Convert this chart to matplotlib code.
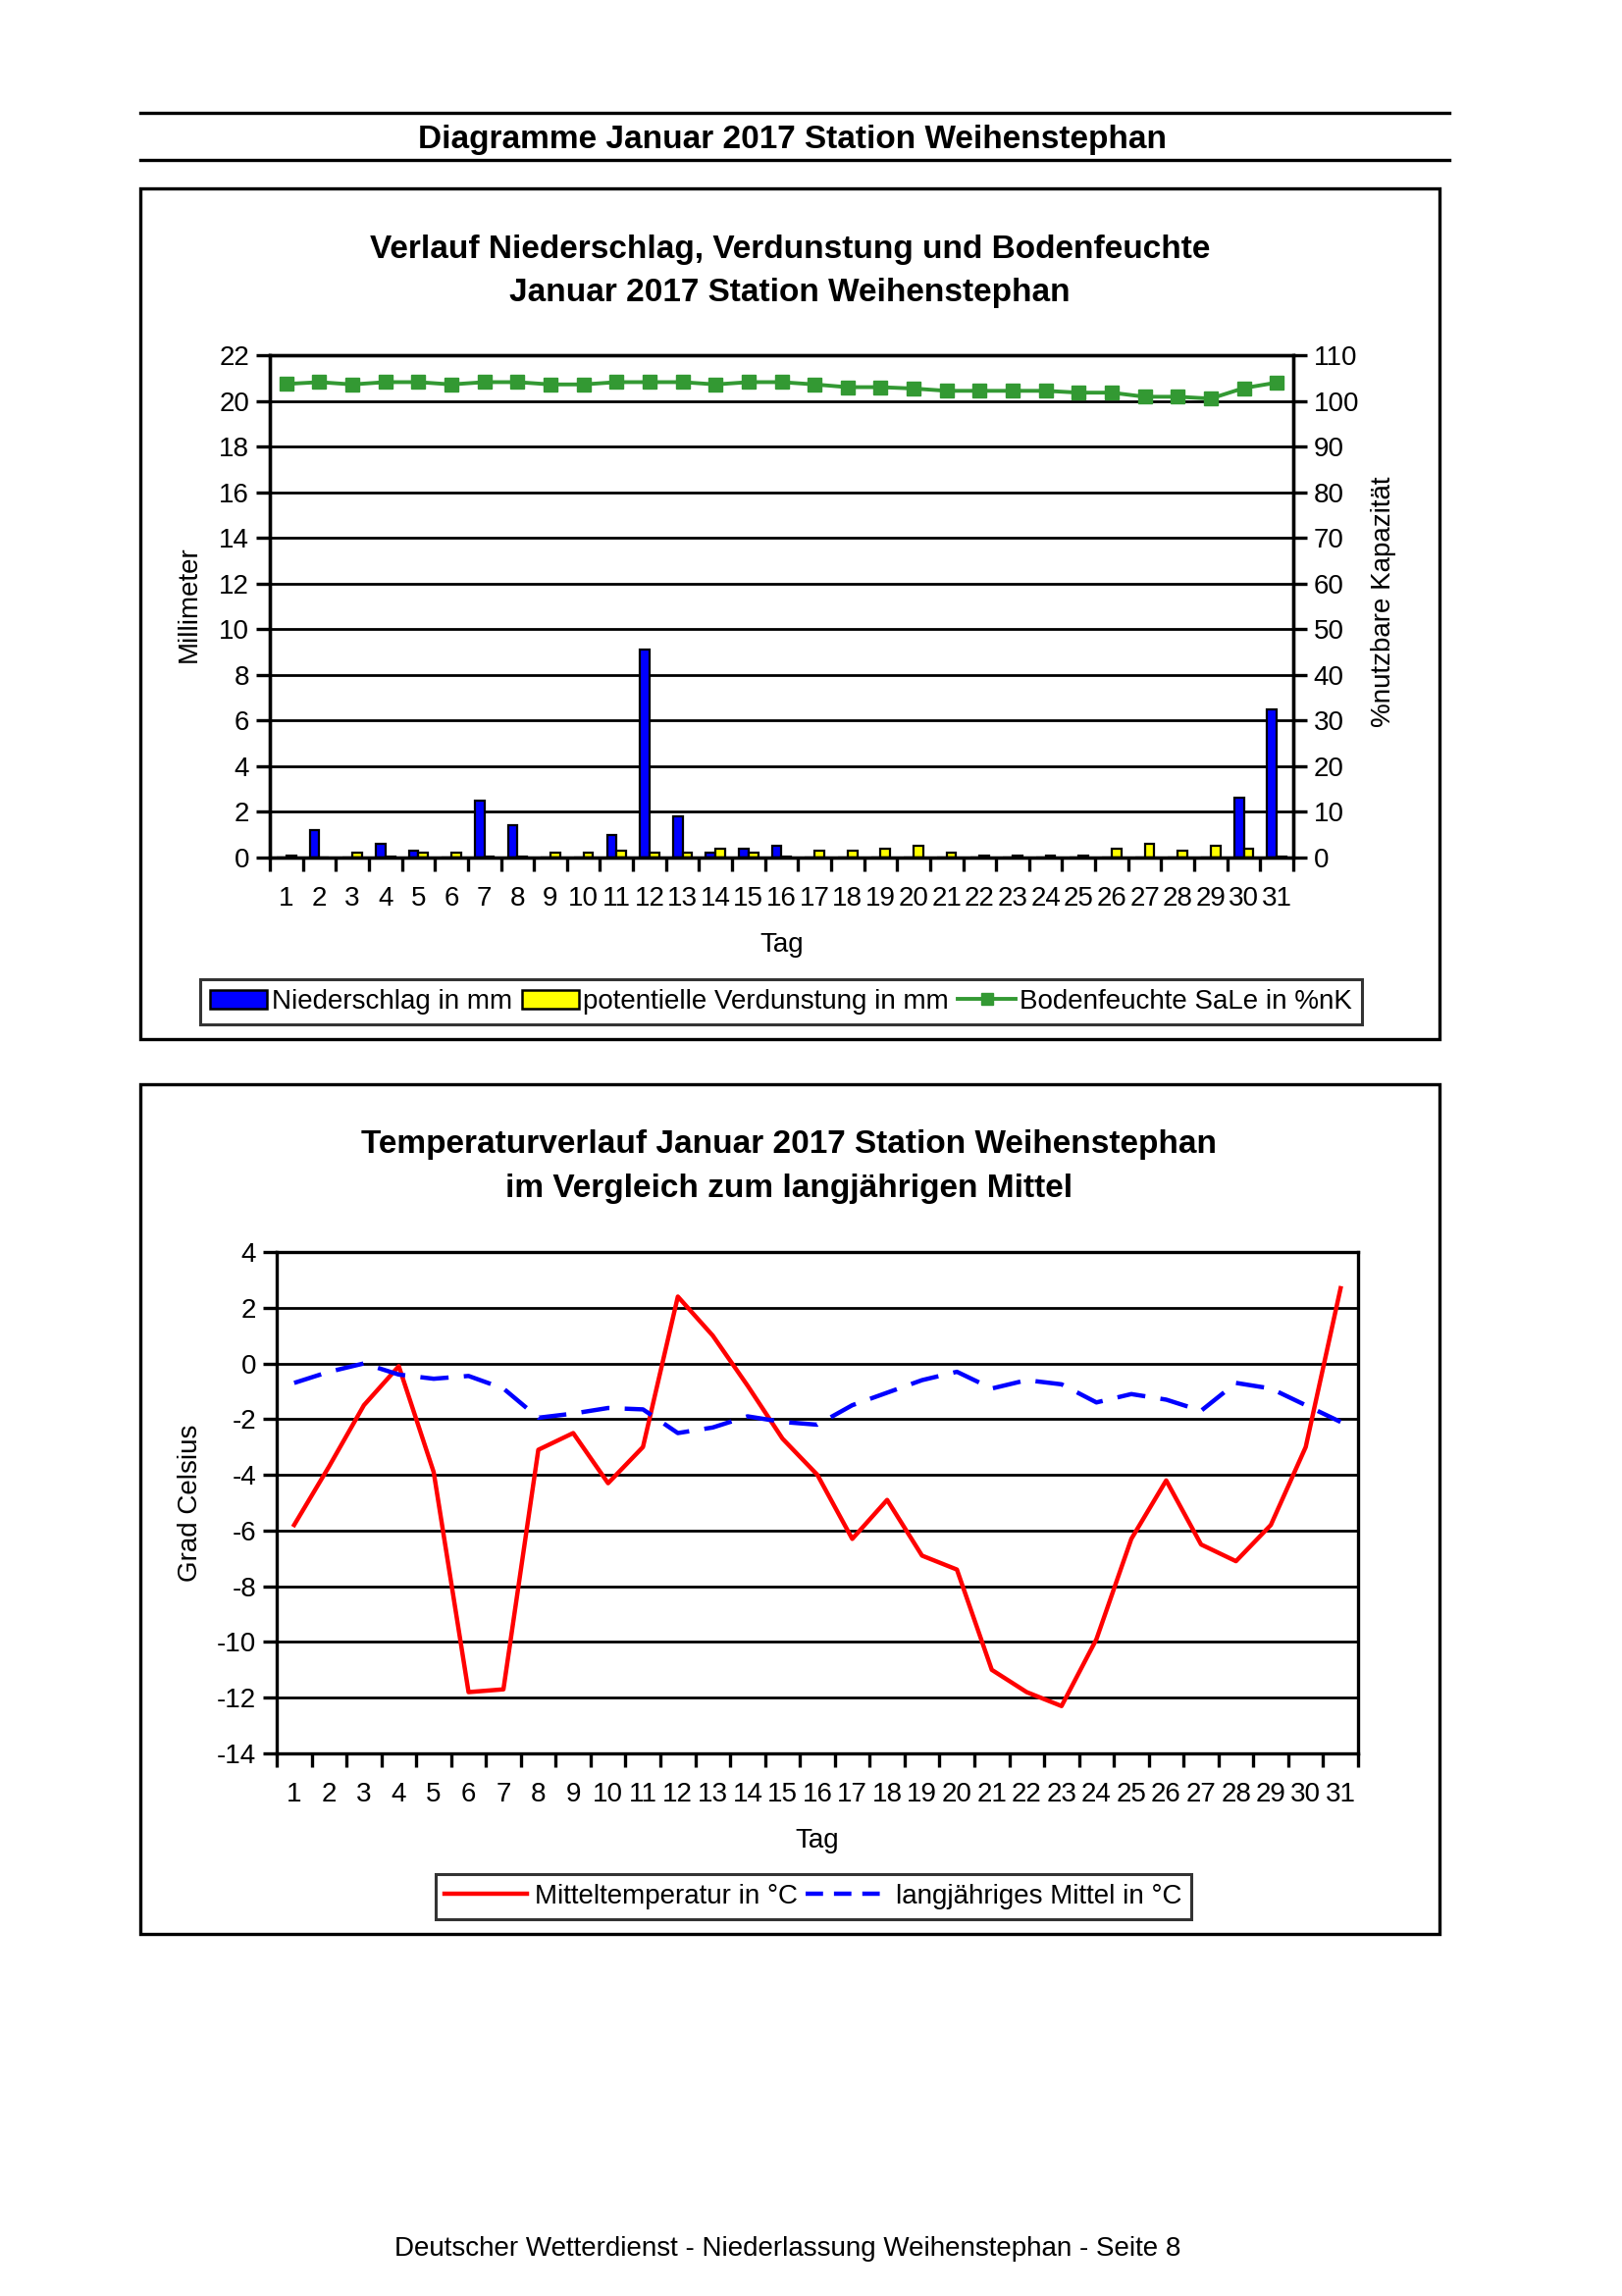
import matplotlib
matplotlib.use('Agg')
import matplotlib.pyplot as plt
from matplotlib.patches import Rectangle, Patch
from matplotlib.lines import Line2D
import numpy as np

plt.rcParams['font.family'] = ['Liberation Sans', 'DejaVu Sans']
plt.rcParams['axes.unicode_minus'] = False

# Daten Januar 2017, Station Weihenstephan
tage = list(range(1, 32))
niederschlag = [0.0, 1.2, 0.0, 0.6, 0.3, 0.0, 2.5, 1.4, 0.0, 0.0, 1.0, 9.1, 1.8, 0.2, 0.4, 0.5,
                0.0, 0.0, 0.0, 0.0, 0.0, 0.0, 0.0, 0.0, 0.0, 0.0, 0.0, 0.0, 0.0, 2.6, 6.5]
verdunstung = [0.1, 0.0, 0.2, 0.05, 0.2, 0.2, 0.05, 0.05, 0.2, 0.2, 0.3, 0.2, 0.2, 0.4, 0.2, 0.05,
               0.3, 0.3, 0.4, 0.5, 0.2, 0.1, 0.1, 0.1, 0.1, 0.4, 0.6, 0.3, 0.5, 0.4, 0.05]
bodenfeuchte = [103.7, 104.1, 103.6, 104.1, 104.1, 103.6, 104.1, 104.1, 103.6, 103.6, 104.1,
                104.1, 104.1, 103.6, 104.1, 104.1, 103.6, 103.0, 103.0, 102.7, 102.2, 102.2,
                102.2, 102.2, 101.8, 101.8, 100.9, 100.9, 100.5, 102.8, 104.0]
mitteltemp = [-5.8, -3.7, -1.5, -0.1, -3.9, -11.8, -11.7, -3.1, -2.5, -4.3, -3.0, 2.4, 1.0, -0.8,
              -2.7, -4.0, -6.3, -4.9, -6.9, -7.4, -11.0, -11.8, -12.3, -9.9, -6.3, -4.2, -6.5,
              -7.1, -5.8, -3.0, 2.7]
langj_mittel = [-0.7, -0.3, 0.0, -0.4, -0.55, -0.45, -0.9, -1.95, -1.8, -1.6, -1.65, -2.5, -2.3,
                -1.9, -2.1, -2.2, -1.5, -1.05, -0.6, -0.3, -0.9, -0.6, -0.75, -1.4, -1.1, -1.3,
                -1.7, -0.7, -0.9, -1.5, -2.1]

W, H = 1653, 2340
fig = plt.figure(figsize=(W / 100, H / 100), dpi=100)


def fx(px):
    return px / W


def fy(py):
    return 1 - py / H


# Kopfzeile
for y in (115, 163):
    fig.add_artist(Line2D([fx(143), fx(1477)], [fy(y), fy(y)], color='black', lw=2.4))
fig.text(fx(808), fy(143), 'Diagramme Januar 2017 Station Weihenstephan',
         ha='center', va='center', fontsize=24, fontweight='bold')

# Rahmen
for (x0, y0, x1, y1) in [(143, 192, 1467, 1059), (143, 1105, 1467, 1971)]:
    fig.add_artist(Rectangle((fx(x0), fy(y1)), fx(x1) - fx(x0), fy(y0) - fy(y1), fill=False,
                             lw=2.4, ec='black', transform=fig.transFigure))


def style_axes(ax):
    for s in ax.spines.values():
        s.set_linewidth(2.4)
    ax.grid(axis='y', color='black', lw=2)
    ax.set_axisbelow(True)
    ax.set_xlim(0.5, 31.5)
    ax.set_xticks(tage)
    ax.set_xticklabels([str(t) for t in tage])
    ax.set_xticks(np.arange(0.5, 32, 1), minor=True)
    ax.tick_params(axis='x', which='major', length=0, pad=21, labelsize=20)
    ax.tick_params(axis='x', which='minor', length=10, width=2.4, direction='out')
    ax.tick_params(axis='y', length=10, width=2.4, direction='out', pad=5, labelsize=20)
    ax.set_xlabel('Tag', fontsize=20, labelpad=15)


# Diagramm 1: Niederschlag, Verdunstung, Bodenfeuchte
fig.text(fx(805), fy(254), 'Verlauf Niederschlag, Verdunstung und Bodenfeuchte',
         ha='center', va='center', fontsize=24, fontweight='bold')
fig.text(fx(805), fy(298), 'Januar 2017 Station Weihenstephan',
         ha='center', va='center', fontsize=24, fontweight='bold')

ax1 = fig.add_axes([fx(275), fy(874), fx(1318) - fx(275), fy(362) - fy(874)])
x = np.array(tage)
w = 0.29
ax1.bar(x - w / 2, niederschlag, w, color='#0000FF', edgecolor='black', lw=1.6)
ax1.bar(x + w / 2, verdunstung, w, color='#FFFF00', edgecolor='black', lw=1.6)
ax1.set_ylim(0, 22)
ax1.set_yticks(range(0, 23, 2))
style_axes(ax1)

ax1r = ax1.twinx()
ax1r.plot(tage, bodenfeuchte, color='#339933', lw=2.8, marker='s', ms=10)
ax1r.set_ylim(0, 110)
ax1r.set_yticks(range(0, 111, 10))
ax1r.tick_params(axis='y', length=10, width=2.4, direction='out', pad=5, labelsize=20)
for s in ax1r.spines.values():
    s.set_linewidth(2.4)

fig.text(fx(193), fy(616), 'Millimeter', rotation=90, ha='center', va='center', fontsize=20)
fig.text(fx(1410), fy(613), '%nutzbare Kapazität', rotation=90, ha='center', va='center',
         fontsize=20)

h1 = [Patch(fc='#0000FF', ec='black', lw=1.8),
      Patch(fc='#FFFF00', ec='black', lw=1.8),
      Line2D([], [], color='#339933', lw=2.8, marker='s', ms=9)]
l1 = ['Niederschlag in mm', 'potentielle Verdunstung in mm', 'Bodenfeuchte SaLe in %nK']
leg1 = fig.legend(h1, l1, loc='center', bbox_to_anchor=(fx(796), fy(1021)), ncol=3, fontsize=20,
                  frameon=True, fancybox=False, edgecolor='black', handlelength=2.1,
                  handletextpad=0.15, columnspacing=0.35, borderpad=0.35)
leg1.get_frame().set_linewidth(2.2)

# Diagramm 2: Temperatur
fig.text(fx(804), fy(1167), 'Temperaturverlauf Januar 2017 Station Weihenstephan',
         ha='center', va='center', fontsize=24, fontweight='bold')
fig.text(fx(804), fy(1211), 'im Vergleich zum langjährigen Mittel',
         ha='center', va='center', fontsize=24, fontweight='bold')

ax2 = fig.add_axes([fx(282), fy(1787), fx(1384) - fx(282), fy(1276) - fy(1787)])
ax2.plot(tage, mitteltemp, color='#FF0000', lw=3.2)
ax2.plot(tage, langj_mittel, color='#0000FF', lw=3.2, dashes=(6.5, 3.5))
ax2.set_ylim(-14, 4)
ax2.set_yticks(range(-14, 5, 2))
style_axes(ax2)

fig.text(fx(194), fy(1532), 'Grad Celsius', rotation=90, ha='center', va='center', fontsize=20)

h2 = [Line2D([], [], color='#FF0000', lw=3.2),
      Line2D([], [], color='#0000FF', lw=3.2, dashes=(4, 2.5))]
l2 = ['Mitteltemperatur in °C', 'langjähriges Mittel in °C']
leg2 = fig.legend(h2, l2, loc='center', bbox_to_anchor=(fx(829), fy(1933)), ncol=2, fontsize=20,
                  frameon=True, fancybox=False, edgecolor='black', handlelength=3,
                  handletextpad=0.3, columnspacing=0.3, borderpad=0.35)
leg2.get_frame().set_linewidth(2.2)

fig.text(fx(803), fy(2292), 'Deutscher Wetterdienst - Niederlassung Weihenstephan - Seite 8',
         ha='center', va='center', fontsize=20)

fig.savefig('out.png', dpi=100)
